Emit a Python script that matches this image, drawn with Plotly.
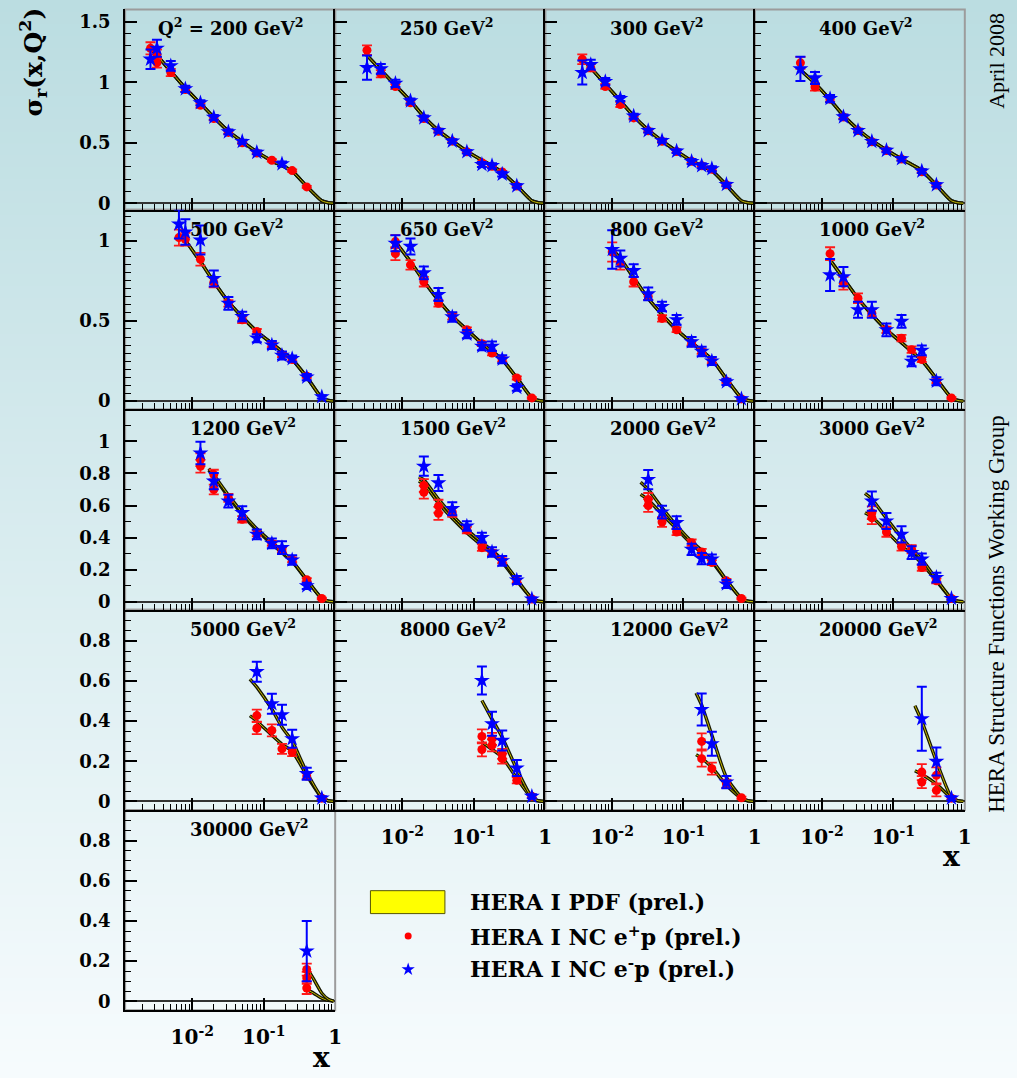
import plotly.graph_objects as go

# ---------------- data ----------------
Q2_LABELS = ["Q<sup>2</sup> = 200 GeV<sup>2</sup>", "250 GeV<sup>2</sup>", "300 GeV<sup>2</sup>", "400 GeV<sup>2</sup>",
             "500 GeV<sup>2</sup>", "650 GeV<sup>2</sup>", "800 GeV<sup>2</sup>", "1000 GeV<sup>2</sup>",
             "1200 GeV<sup>2</sup>", "1500 GeV<sup>2</sup>", "2000 GeV<sup>2</sup>", "3000 GeV<sup>2</sup>",
             "5000 GeV<sup>2</sup>", "8000 GeV<sup>2</sup>", "12000 GeV<sup>2</sup>", "20000 GeV<sup>2</sup>",
             "30000 GeV<sup>2</sup>"]

# HERA I NC e+p (red)
EP_X = [
    [0.0026, 0.0032, 0.0032, 0.005, 0.008, 0.013, 0.02, 0.032, 0.05, 0.08, 0.13, 0.25, 0.4],
    [0.0032, 0.005, 0.008, 0.013, 0.02, 0.032, 0.05, 0.08, 0.13, 0.18, 0.25, 0.4],
    [0.0038, 0.005, 0.008, 0.013, 0.02, 0.032, 0.05, 0.08, 0.13, 0.18, 0.25, 0.4],
    [0.005, 0.008, 0.013, 0.02, 0.032, 0.05, 0.08, 0.13, 0.25, 0.4],
    [0.0065, 0.008, 0.013, 0.02, 0.032, 0.05, 0.08, 0.13, 0.18, 0.25, 0.4],
    [0.008, 0.008, 0.013, 0.02, 0.032, 0.05, 0.08, 0.13, 0.18, 0.25, 0.4, 0.65],
    [0.01, 0.013, 0.02, 0.032, 0.05, 0.08, 0.13, 0.18, 0.25, 0.4, 0.65],
    [0.013, 0.02, 0.032, 0.05, 0.08, 0.13, 0.18, 0.25, 0.4, 0.65],
    [0.013, 0.013, 0.02, 0.02, 0.032, 0.05, 0.08, 0.13, 0.18, 0.25, 0.4, 0.65],
    [0.02, 0.02, 0.032, 0.032, 0.05, 0.08, 0.13, 0.18, 0.25, 0.4, 0.65],
    [0.032, 0.032, 0.05, 0.08, 0.13, 0.18, 0.25, 0.4, 0.65],
    [0.05, 0.05, 0.08, 0.13, 0.18, 0.25, 0.4, 0.65],
    [0.08, 0.08, 0.13, 0.18, 0.25, 0.4, 0.65],
    [0.13, 0.13, 0.18, 0.18, 0.25, 0.25, 0.4, 0.65],
    [0.18, 0.18, 0.25, 0.4, 0.65],
    [0.25, 0.25, 0.4, 0.4, 0.65],
    [0.4, 0.4, 0.4],
]
EP_Y = [
    [1.28, 1.23, 1.16, 1.08, 0.94, 0.81, 0.70, 0.585, 0.50, 0.415, 0.355, 0.27, 0.135],
    [1.265, 1.07, 0.965, 0.83, 0.70, 0.595, 0.513, 0.425, 0.335, 0.305, 0.258, 0.142],
    [1.19, 1.12, 0.965, 0.815, 0.705, 0.598, 0.512, 0.428, 0.346, 0.31, 0.28, 0.152],
    [1.16, 0.96, 0.86, 0.713, 0.60, 0.508, 0.436, 0.365, 0.26, 0.15],
    [1.02, 1.01, 0.885, 0.74, 0.61, 0.507, 0.435, 0.352, 0.29, 0.26, 0.155],
    [0.995, 0.92, 0.85, 0.745, 0.61, 0.528, 0.445, 0.358, 0.30, 0.259, 0.145, 0.02],
    [0.93, 0.86, 0.745, 0.652, 0.516, 0.445, 0.362, 0.31, 0.248, 0.124, 0.014],
    [0.92, 0.735, 0.642, 0.549, 0.445, 0.393, 0.321, 0.259, 0.124, 0.02],
    [0.886, 0.845, 0.793, 0.70, 0.648, 0.514, 0.427, 0.364, 0.323, 0.261, 0.137, 0.02],
    [0.725, 0.683, 0.596, 0.551, 0.559, 0.447, 0.337, 0.306, 0.255, 0.13, 0.017],
    [0.638, 0.60, 0.497, 0.435, 0.368, 0.31, 0.244, 0.13, 0.02],
    [0.555, 0.524, 0.435, 0.344, 0.327, 0.213, 0.13, 0.02],
    [0.428, 0.365, 0.354, 0.262, 0.246, 0.126, 0.016],
    [0.324, 0.259, 0.312, 0.279, 0.237, 0.213, 0.105, 0.025],
    [0.299, 0.213, 0.163, 0.088, 0.018],
    [0.146, 0.096, 0.13, 0.055, 0.016],
    [0.158, 0.116, 0.066],
]
EP_ERR = [
    [0.05, 0.04, 0.04, 0.03, 0.02, 0.02, 0.015, 0.012, 0.01, 0.01, 0.01, 0.01, 0.008],
    [0.04, 0.03, 0.02, 0.02, 0.015, 0.012, 0.01, 0.01, 0.01, 0.01, 0.01, 0.008],
    [0.04, 0.03, 0.02, 0.02, 0.015, 0.012, 0.01, 0.01, 0.01, 0.01, 0.01, 0.008],
    [0.05, 0.03, 0.02, 0.015, 0.012, 0.01, 0.01, 0.01, 0.01, 0.008],
    [0.05, 0.04, 0.04, 0.03, 0.02, 0.02, 0.015, 0.015, 0.015, 0.012, 0.01],
    [0.04, 0.04, 0.03, 0.03, 0.02, 0.02, 0.015, 0.015, 0.015, 0.012, 0.01, 0.005],
    [0.06, 0.04, 0.03, 0.02, 0.02, 0.015, 0.015, 0.015, 0.012, 0.01, 0.005],
    [0.04, 0.04, 0.03, 0.025, 0.02, 0.02, 0.02, 0.015, 0.012, 0.005],
    [0.04, 0.04, 0.03, 0.03, 0.025, 0.02, 0.02, 0.015, 0.015, 0.015, 0.01, 0.005],
    [0.04, 0.04, 0.04, 0.04, 0.03, 0.02, 0.02, 0.015, 0.015, 0.012, 0.005],
    [0.04, 0.04, 0.03, 0.02, 0.02, 0.02, 0.015, 0.012, 0.005],
    [0.04, 0.04, 0.03, 0.025, 0.025, 0.02, 0.015, 0.005],
    [0.03, 0.03, 0.03, 0.025, 0.02, 0.015, 0.005],
    [0.035, 0.035, 0.03, 0.03, 0.025, 0.025, 0.015, 0.008],
    [0.04, 0.04, 0.03, 0.02, 0.006],
    [0.04, 0.03, 0.04, 0.03, 0.006],
    [0.03, 0.03, 0.03],
]

# HERA I NC e-p (blue)
EM_X = [
    [0.0026, 0.0032, 0.005, 0.008, 0.013, 0.02, 0.032, 0.05, 0.08, 0.18],
    [0.0032, 0.005, 0.008, 0.013, 0.02, 0.032, 0.05, 0.08, 0.13, 0.18, 0.25, 0.4],
    [0.0038, 0.005, 0.008, 0.013, 0.02, 0.032, 0.05, 0.08, 0.13, 0.18, 0.25, 0.4],
    [0.005, 0.008, 0.013, 0.02, 0.032, 0.05, 0.08, 0.13, 0.25, 0.4],
    [0.0065, 0.008, 0.013, 0.02, 0.032, 0.05, 0.08, 0.13, 0.18, 0.25, 0.4, 0.65],
    [0.008, 0.013, 0.02, 0.032, 0.05, 0.08, 0.13, 0.18, 0.25, 0.4],
    [0.01, 0.013, 0.02, 0.032, 0.05, 0.08, 0.13, 0.18, 0.25, 0.4, 0.65],
    [0.013, 0.02, 0.032, 0.05, 0.08, 0.13, 0.18, 0.25, 0.4],
    [0.013, 0.02, 0.032, 0.05, 0.08, 0.13, 0.18, 0.25, 0.4],
    [0.02, 0.032, 0.05, 0.08, 0.13, 0.18, 0.25, 0.4, 0.65],
    [0.032, 0.05, 0.08, 0.13, 0.18, 0.25, 0.4],
    [0.05, 0.08, 0.13, 0.18, 0.25, 0.4, 0.65],
    [0.08, 0.13, 0.18, 0.25, 0.4, 0.65],
    [0.13, 0.18, 0.25, 0.4, 0.65],
    [0.18, 0.25, 0.4],
    [0.25, 0.4, 0.65],
    [0.4],
]
EM_Y = [
    [1.19, 1.28, 1.135, 0.945, 0.83, 0.71, 0.59, 0.51, 0.42, 0.325],
    [1.12, 1.11, 0.99, 0.845, 0.705, 0.60, 0.513, 0.425, 0.32, 0.31, 0.24, 0.143],
    [1.08, 1.145, 1.005, 0.865, 0.72, 0.60, 0.518, 0.43, 0.345, 0.31, 0.285, 0.155],
    [1.11, 1.035, 0.865, 0.713, 0.60, 0.51, 0.437, 0.367, 0.265, 0.152],
    [1.105, 1.055, 1.005, 0.765, 0.61, 0.528, 0.393, 0.35, 0.285, 0.265, 0.15, 0.027],
    [0.985, 0.965, 0.80, 0.665, 0.525, 0.418, 0.342, 0.342, 0.262, 0.085],
    [0.946, 0.89, 0.814, 0.669, 0.59, 0.507, 0.37, 0.31, 0.25, 0.12, 0.014],
    [0.787, 0.776, 0.57, 0.57, 0.445, 0.497, 0.248, 0.317, 0.124],
    [0.927, 0.752, 0.627, 0.555, 0.42, 0.364, 0.337, 0.26, 0.099],
    [0.845, 0.741, 0.58, 0.472, 0.40, 0.31, 0.255, 0.135, 0.017],
    [0.762, 0.559, 0.493, 0.327, 0.269, 0.265, 0.11],
    [0.627, 0.503, 0.42, 0.306, 0.265, 0.151, 0.02],
    [0.647, 0.487, 0.432, 0.312, 0.138, 0.016],
    [0.603, 0.387, 0.304, 0.166, 0.025],
    [0.458, 0.287, 0.096],
    [0.412, 0.199, 0.016],
    [0.25],
]
EM_ERR = [
    [0.08, 0.07, 0.04, 0.025, 0.02, 0.02, 0.02, 0.015, 0.015, 0.02],
    [0.1, 0.04, 0.03, 0.02, 0.02, 0.015, 0.015, 0.015, 0.02, 0.02, 0.02, 0.015],
    [0.1, 0.04, 0.03, 0.02, 0.02, 0.015, 0.015, 0.015, 0.02, 0.02, 0.02, 0.015],
    [0.1, 0.05, 0.03, 0.02, 0.015, 0.015, 0.015, 0.015, 0.015, 0.015],
    [0.09, 0.08, 0.09, 0.05, 0.04, 0.03, 0.025, 0.025, 0.025, 0.02, 0.02, 0.01],
    [0.05, 0.05, 0.04, 0.04, 0.03, 0.025, 0.025, 0.03, 0.025, 0.02],
    [0.12, 0.05, 0.04, 0.04, 0.03, 0.03, 0.03, 0.03, 0.025, 0.02, 0.01],
    [0.1, 0.06, 0.05, 0.05, 0.04, 0.04, 0.03, 0.03, 0.025],
    [0.07, 0.05, 0.04, 0.04, 0.03, 0.03, 0.04, 0.03, 0.02],
    [0.06, 0.05, 0.04, 0.03, 0.03, 0.03, 0.03, 0.025, 0.01],
    [0.06, 0.04, 0.04, 0.035, 0.035, 0.03, 0.025],
    [0.06, 0.05, 0.05, 0.04, 0.035, 0.03, 0.01],
    [0.05, 0.05, 0.05, 0.045, 0.03, 0.01],
    [0.07, 0.06, 0.05, 0.04, 0.01],
    [0.08, 0.06, 0.03],
    [0.16, 0.07, 0.01],
    [0.15],
]

# HERA I PDF (prel.) predictions
CURVE_X = [
    [0.0028, 0.005, 0.008, 0.013, 0.02, 0.032, 0.05, 0.08, 0.13, 0.18, 0.25, 0.4, 0.65, 0.8, 0.95],
    [0.003, 0.005, 0.008, 0.013, 0.02, 0.032, 0.05, 0.08, 0.13, 0.18, 0.25, 0.4, 0.65, 0.8, 0.95],
    [0.0045, 0.008, 0.013, 0.02, 0.032, 0.05, 0.08, 0.13, 0.18, 0.25, 0.4, 0.65, 0.8, 0.95],
    [0.005, 0.008, 0.013, 0.02, 0.032, 0.05, 0.08, 0.13, 0.18, 0.25, 0.4, 0.65, 0.8, 0.95],
    [0.0075, 0.013, 0.02, 0.032, 0.05, 0.08, 0.13, 0.18, 0.25, 0.4, 0.65, 0.8, 0.95],
    [0.0075, 0.013, 0.02, 0.032, 0.05, 0.08, 0.13, 0.18, 0.25, 0.4, 0.65, 0.8, 0.95],
    [0.0103, 0.013, 0.02, 0.032, 0.05, 0.08, 0.13, 0.18, 0.25, 0.4, 0.65, 0.8, 0.95],
    [0.013, 0.02, 0.032, 0.05, 0.08, 0.13, 0.18, 0.25, 0.4, 0.65, 0.8, 0.95],
    [0.017, 0.02, 0.032, 0.05, 0.08, 0.13, 0.18, 0.25, 0.4, 0.65, 0.8, 0.95],
    [0.017, 0.02, 0.032, 0.05, 0.08, 0.13, 0.18, 0.25, 0.4, 0.65, 0.8, 0.95],
    [0.025, 0.032, 0.05, 0.08, 0.13, 0.18, 0.25, 0.4, 0.65, 0.8, 0.95],
    [0.04, 0.05, 0.08, 0.13, 0.18, 0.25, 0.4, 0.65, 0.8, 0.95],
    [0.064, 0.08, 0.13, 0.18, 0.25, 0.4, 0.65, 0.8, 0.95],
    [0.13, 0.18, 0.25, 0.4, 0.65, 0.8, 0.95],
    [0.15, 0.18, 0.25, 0.4, 0.65, 0.8, 0.95],
    [0.2, 0.25, 0.4, 0.65, 0.8, 0.95],
    [0.4, 0.5, 0.65, 0.8, 0.95],
]
CURVE_EP = [
    [1.26, 1.09, 0.95, 0.825, 0.71, 0.595, 0.51, 0.425, 0.35, 0.31, 0.265, 0.14, 0.02, 0.004, 0.0],
    [1.24, 1.10, 0.975, 0.845, 0.715, 0.60, 0.515, 0.43, 0.355, 0.31, 0.255, 0.145, 0.02, 0.004, 0.0],
    [1.15, 0.985, 0.845, 0.72, 0.605, 0.515, 0.43, 0.35, 0.31, 0.27, 0.15, 0.02, 0.004, 0.0],
    [1.10, 0.99, 0.855, 0.725, 0.61, 0.52, 0.44, 0.365, 0.32, 0.27, 0.15, 0.02, 0.004, 0.0],
    [1.02, 0.87, 0.745, 0.62, 0.525, 0.435, 0.36, 0.31, 0.26, 0.15, 0.02, 0.004, 0.0],
    [1.01, 0.87, 0.75, 0.63, 0.53, 0.445, 0.36, 0.31, 0.26, 0.145, 0.02, 0.004, 0.0],
    [0.94, 0.89, 0.77, 0.64, 0.54, 0.445, 0.365, 0.315, 0.26, 0.14, 0.02, 0.004, 0.0],
    [0.88, 0.765, 0.64, 0.54, 0.445, 0.365, 0.31, 0.255, 0.14, 0.02, 0.004, 0.0],
    [0.82, 0.78, 0.655, 0.545, 0.445, 0.36, 0.305, 0.25, 0.135, 0.02, 0.003, 0.0],
    [0.752, 0.735, 0.615, 0.52, 0.43, 0.35, 0.30, 0.245, 0.13, 0.02, 0.003, 0.0],
    [0.669, 0.635, 0.545, 0.455, 0.36, 0.305, 0.25, 0.13, 0.02, 0.003, 0.0],
    [0.555, 0.53, 0.44, 0.345, 0.30, 0.24, 0.13, 0.018, 0.003, 0.0],
    [0.427, 0.40, 0.33, 0.285, 0.25, 0.13, 0.018, 0.003, 0.0],
    [0.295, 0.26, 0.22, 0.115, 0.016, 0.003, 0.0],
    [0.233, 0.215, 0.17, 0.08, 0.014, 0.003, 0.0],
    [0.153, 0.135, 0.086, 0.016, 0.003, 0.0],
    [0.058, 0.04, 0.015, 0.004, 0.0],
]
CURVE_EM = [
    [1.26, 1.09, 0.95, 0.825, 0.71, 0.595, 0.51, 0.425, 0.35, 0.31, 0.265, 0.14, 0.02, 0.004, 0.0],
    [1.24, 1.10, 0.975, 0.845, 0.715, 0.60, 0.515, 0.43, 0.355, 0.31, 0.255, 0.145, 0.02, 0.004, 0.0],
    [1.15, 0.985, 0.845, 0.72, 0.605, 0.515, 0.43, 0.35, 0.31, 0.27, 0.15, 0.02, 0.004, 0.0],
    [1.10, 0.99, 0.855, 0.725, 0.61, 0.52, 0.44, 0.365, 0.32, 0.27, 0.15, 0.02, 0.004, 0.0],
    [1.02, 0.87, 0.745, 0.62, 0.525, 0.435, 0.36, 0.31, 0.26, 0.15, 0.02, 0.004, 0.0],
    [1.01, 0.87, 0.75, 0.63, 0.53, 0.445, 0.36, 0.31, 0.26, 0.145, 0.02, 0.004, 0.0],
    [0.94, 0.89, 0.77, 0.64, 0.54, 0.445, 0.365, 0.315, 0.26, 0.14, 0.02, 0.004, 0.0],
    [0.88, 0.765, 0.64, 0.54, 0.445, 0.365, 0.31, 0.255, 0.14, 0.02, 0.004, 0.0],
    [0.83, 0.79, 0.665, 0.555, 0.455, 0.37, 0.315, 0.255, 0.138, 0.02, 0.003, 0.0],
    [0.778, 0.76, 0.64, 0.54, 0.45, 0.37, 0.32, 0.26, 0.14, 0.02, 0.003, 0.0],
    [0.745, 0.70, 0.585, 0.475, 0.375, 0.32, 0.26, 0.135, 0.02, 0.003, 0.0],
    [0.675, 0.64, 0.52, 0.40, 0.33, 0.265, 0.14, 0.02, 0.003, 0.0],
    [0.61, 0.57, 0.46, 0.37, 0.30, 0.145, 0.02, 0.003, 0.0],
    [0.503, 0.41, 0.32, 0.16, 0.02, 0.003, 0.0],
    [0.541, 0.48, 0.33, 0.12, 0.02, 0.003, 0.0],
    [0.477, 0.40, 0.20, 0.02, 0.003, 0.0],
    [0.166, 0.11, 0.04, 0.01, 0.0],
]

Y_TICK_LABEL_STEP = [0.5, 0.5, 0.2, 0.2, 0.2]
Y_MINOR_STEP = [0.1, 0.05, 0.1, 0.05, 0.05]
Y_RANGES = [(-0.0535, 1.601), (-0.052, 1.194), (-0.05, 1.199), (-0.043, 0.956), (-0.045, 0.954)]
X_TICK_VALS = [0.01, 0.1, 1]
X_TICK_TEXT = ["10<sup>-2</sup>", "10<sup>-1</sup>", "1"]

LEGEND_TEXT = ["HERA I PDF (prel.)", "HERA I NC e<sup>+</sup>p (prel.)", "HERA I NC e<sup>-</sup>p (prel.)"]

# ---------------- layout geometry ----------------
W, H = 1017, 1078
COL_EDGES = [126, 337.5, 549, 760, 971.5]
ROW_EDGES = [9.5, 210.5, 411, 612, 813, 1014]
SERIF_B = "DejaVu Serif"

top_c = (187, 221, 225)
bot_c = (246, 251, 253)

fig = go.Figure()
layout = dict(width=W, height=H, margin=dict(l=0, r=0, t=0, b=0),
              paper_bgcolor="rgb(%d,%d,%d)" % bot_c, plot_bgcolor="rgba(0,0,0,0)",
              showlegend=False)
shapes = []
annotations = []

# background gradient
N = 90
for i in range(N):
    t = i / (N - 1)
    c = tuple(round(top_c[k] + (bot_c[k] - top_c[k]) * t) for k in range(3))
    shapes.append(dict(type="rect", xref="paper", yref="paper", x0=-0.01, x1=1.01,
                       y0=1 - (i + 1) / N - 0.003 if i < N - 1 else -0.02,
                       y1=1 - i / N if i > 0 else 1.02,
                       fillcolor="rgb(%d,%d,%d)" % c, line=dict(width=0), layer="below"))

for i in range(17):
    r, c = divmod(i, 4)
    k = i + 1
    xn = "xaxis" if k == 1 else "xaxis%d" % k
    yn = "yaxis" if k == 1 else "yaxis%d" % k
    xr = "x" if k == 1 else "x%d" % k
    yr = "y" if k == 1 else "y%d" % k
    L, R = COL_EDGES[c], COL_EDGES[c + 1]
    T, B = ROW_EDGES[r], ROW_EDGES[r + 1]
    show_x = (r == 3 and c > 0) or r == 4
    layout[xn] = dict(type="log", range=[-2.94, 0], domain=[L / W, R / W], anchor=yr,
                      showline=True, linecolor="black", linewidth=2,
                      ticks="inside", ticklen=12, tickwidth=1.5, tickcolor="black",
                      tickmode="array", tickvals=X_TICK_VALS, ticktext=X_TICK_TEXT,
                      showticklabels=show_x, ticklabelstandoff=8,
                      tickfont=dict(family=SERIF_B, size=20, color="black", weight="bold"),
                      showgrid=False, zeroline=False,
                      minor=dict(dtick="D1", ticks="inside", ticklen=6, tickwidth=1.2,
                                 tickcolor="black", showgrid=False))
    layout[yn] = dict(range=list(Y_RANGES[r]), domain=[1 - B / H, 1 - T / H], anchor=xr,
                      showline=True, linecolor="black", linewidth=2,
                      ticks="inside", ticklen=12, tickwidth=1.5, tickcolor="black",
                      tickmode="linear", tick0=0, dtick=Y_TICK_LABEL_STEP[r],
                      showticklabels=(c == 0), ticklabelstandoff=9,
                      tickfont=dict(family=SERIF_B, size=18, color="black", weight="bold"),
                      showgrid=False, zeroline=True, zerolinecolor="#333333", zerolinewidth=1.6,
                      minor=dict(tickmode="linear", tick0=0, dtick=Y_MINOR_STEP[r], ticks="inside",
                                 ticklen=6, tickwidth=1.2, tickcolor="black", showgrid=False))
    # gray frame
    shapes.append(dict(type="rect", xref="paper", yref="paper", x0=L / W, x1=R / W,
                       y0=1 - B / H, y1=1 - T / H, line=dict(color="#9c9c9c", width=2),
                       fillcolor="rgba(0,0,0,0)", layer="below"))

    # prediction curves (e+p then e-p): dark band edges with yellow core
    for cy in (CURVE_EP[i], CURVE_EM[i]):
        fig.add_trace(go.Scatter(x=CURVE_X[i], y=cy, mode="lines", xaxis=xr, yaxis=yr,
                                 line=dict(color="#161600", width=3.4, shape="spline", smoothing=0.6),
                                 hoverinfo="skip"))
        fig.add_trace(go.Scatter(x=CURVE_X[i], y=cy, mode="lines", xaxis=xr, yaxis=yr,
                                 line=dict(color="#c8bc00", width=1.0, shape="spline", smoothing=0.6),
                                 hoverinfo="skip"))
    # e+p points
    fig.add_trace(go.Scatter(x=EP_X[i], y=EP_Y[i], mode="markers", xaxis=xr, yaxis=yr,
                             marker=dict(symbol="circle", size=9, color="#ff0000"),
                             error_y=dict(type="data", array=EP_ERR[i], color="#ff1a1a",
                                          thickness=1.8, width=5)))
    # e-p points
    fig.add_trace(go.Scatter(x=EM_X[i], y=EM_Y[i], mode="markers", xaxis=xr, yaxis=yr,
                             marker=dict(symbol="star", size=12, color="#0000ff"),
                             error_y=dict(type="data", array=EM_ERR[i], color="#0000ff",
                                          thickness=2, width=5)))

    # panel label
    lx = L + (31 if i == 0 else 63)
    annotations.append(dict(text=Q2_LABELS[i], xref="paper", yref="paper",
                            x=lx / W, y=1 - (T + 18) / H, xanchor="left", yanchor="middle",
                            showarrow=False,
                            font=dict(family=SERIF_B, size=18, color="black", weight="bold")))

# legend swatch axis (pixel coordinates of the page)
layout["xaxis18"] = dict(domain=[0, 1], range=[0, W], visible=False, anchor="y18")
layout["yaxis18"] = dict(domain=[0, 1], range=[H, 0], visible=False, anchor="x18")
shapes.append(dict(type="rect", xref="paper", yref="paper", x0=373 / W, x1=448 / W,
                   y0=1 - 917 / H, y1=1 - 894 / H, fillcolor="#ffff00",
                   line=dict(color="#555500", width=1)))
fig.add_trace(go.Scatter(x=[411], y=[939.5], mode="markers", xaxis="x18", yaxis="y18",
                         marker=dict(symbol="circle", size=7, color="#ff0000"), hoverinfo="skip"))
fig.add_trace(go.Scatter(x=[411], y=[973], mode="markers", xaxis="x18", yaxis="y18",
                         marker=dict(symbol="star", size=10, color="#0000ff"), hoverinfo="skip"))
for txt, yy in zip(LEGEND_TEXT, [905, 939.5, 972]):
    annotations.append(dict(text=txt, xref="paper", yref="paper", x=471 / W, y=1 - yy / H,
                            xanchor="left", yanchor="middle", showarrow=False,
                            font=dict(family=SERIF_B, size=22, color="black", weight="bold")))

# axis titles and side texts
annotations.append(dict(text="σ<sub>r</sub>(x,Q<sup>2</sup>)", xref="paper", yref="paper",
                        x=33 / W, y=1 - 62 / H, xanchor="center", yanchor="middle", textangle=-90,
                        showarrow=False, font=dict(family=SERIF_B, size=25, color="black", weight="bold")))
annotations.append(dict(text="x", xref="paper", yref="paper", x=958 / W, y=1 - 860 / H,
                        xanchor="center", yanchor="middle", showarrow=False,
                        font=dict(family=SERIF_B, size=28, color="black", weight="bold")))
annotations.append(dict(text="x", xref="paper", yref="paper", x=324 / W, y=1 - 1061 / H,
                        xanchor="center", yanchor="middle", showarrow=False,
                        font=dict(family=SERIF_B, size=28, color="black", weight="bold")))
annotations.append(dict(text="April 2008", xref="paper", yref="paper", x=1004 / W, y=1 - 61 / H,
                        xanchor="center", yanchor="middle", textangle=-90, showarrow=False,
                        font=dict(family="Liberation Serif", size=22, color="black")))
annotations.append(dict(text="HERA Structure Functions Working Group", xref="paper", yref="paper",
                        x=1004 / W, y=1 - 616 / H, xanchor="center", yanchor="middle", textangle=-90,
                        showarrow=False, font=dict(family="Liberation Serif", size=23, color="black")))

layout["shapes"] = shapes
layout["annotations"] = annotations
fig.update_layout(**layout)
fig.write_html("out.html")
